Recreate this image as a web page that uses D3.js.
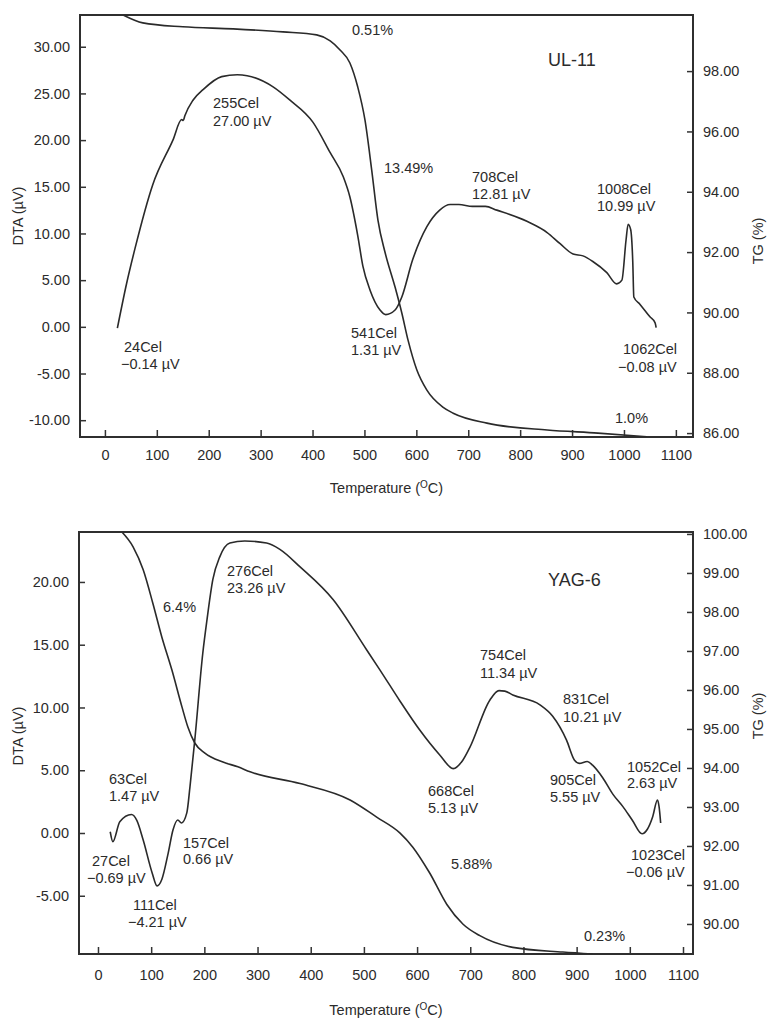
<!DOCTYPE html>
<html>
<head>
<meta charset="utf-8">
<script src="https://cdn.jsdelivr.net/npm/d3@7"></script>
<style>
  body { margin: 0; background: #fff; }
  svg text { font-family: "Liberation Sans", Arial, sans-serif; fill: #2b2b2b; }
</style>
</head>
<body>
<div id="chart"></div>
<script>
// ---------- data: UL-11 ----------
const ulDtaTemp = [24, 42, 58, 92, 131, 148, 151, 154, 170, 189, 225, 255, 274, 324, 356, 401, 434, 459, 472, 487, 497, 511, 530, 541, 559, 572, 593, 620, 645, 665, 682, 708, 733, 755, 813, 852, 877, 902, 921, 940, 967, 986, 996, 1004, 1008, 1013, 1017, 1019, 1031, 1050, 1060, 1062];
const ulDta = [-0.14, 4.7, 8.4, 15.2, 20.0, 22.2, 22.1, 22.6, 24.3, 25.4, 26.8, 27.0, 26.9, 25.7, 24.3, 21.9, 18.65, 16.1, 13.9, 9.8, 6.5, 3.9, 1.8, 1.31, 1.8, 3.2, 7.2, 10.7, 12.5, 13.1, 13.1, 12.9, 12.9, 12.5, 11.3, 10.1, 8.9, 7.8, 7.6, 7.0, 5.8, 4.6, 5.0, 9.3, 10.99, 10.4, 6.9, 3.2, 2.4, 1.07, 0.43, -0.08];
const ulTgTemp = [35, 73, 150, 247, 343, 408, 434, 453, 472, 487, 501, 514, 526, 540, 559, 572, 584, 601, 620, 651, 671, 736, 852, 950, 1044];
const ulTg = [99.86, 99.6, 99.47, 99.4, 99.3, 99.2, 99.0, 98.7, 98.27, 97.48, 96.38, 94.72, 93.06, 91.97, 90.84, 89.98, 89.08, 88.09, 87.43, 86.86, 86.66, 86.33, 86.1, 86.0, 85.88];
const ulDtaTicks = [-10, -5, 0, 5, 10, 15, 20, 25, 30];
const ulTgTicks = [86, 88, 90, 92, 94, 96, 98];
const ulNotes = [
  ["0.51%"], ["255Cel", "27.00 µV"], ["13.49%"], ["708Cel", "12.81 µV"],
  ["1008Cel", "10.99 µV"], ["24Cel", "\u22120.14 µV"], ["541Cel", "1.31 µV"],
  ["1062Cel", "\u22120.08 µV"], ["1.0%"]
];

// ---------- data: YAG-6 ----------
const yagDtaTemp = [23, 28, 41, 63, 73, 85, 102, 111, 120, 132, 141, 150, 157, 167, 173, 182, 197, 205, 216, 229, 248, 276, 317, 342, 380, 442, 505, 530, 568, 605, 643, 668, 686, 699, 737, 754, 765, 780, 831, 855, 881, 896, 905, 920, 930, 949, 968, 987, 1005, 1023, 1033, 1043, 1052, 1055, 1058];
const yagDta = [0.1, -0.69, 0.9, 1.47, 1.0, -0.56, -3.2, -4.21, -3.7, -1.6, 0.24, 1.04, 0.8, 1.6, 3.7, 7.4, 14.3, 17.0, 20.2, 22.0, 23.1, 23.26, 23.1, 22.6, 21.2, 18.6, 14.6, 13.0, 10.5, 8.2, 6.2, 5.13, 5.8, 6.8, 10.6, 11.34, 11.3, 11.0, 10.21, 9.3, 7.4, 5.8, 5.55, 5.7, 5.4, 4.4, 3.1, 2.1, 1.0, -0.06, 0.3, 1.3, 2.63, 2.1, 0.8];
const yagTgTemp = [45, 66, 85, 103, 120, 139, 158, 169, 182, 201, 235, 263, 286, 380, 474, 524, 568, 592, 624, 656, 686, 718, 780, 874, 930];
const yagTg = [100.05, 99.67, 99.08, 98.23, 97.36, 96.51, 95.56, 95.05, 94.64, 94.38, 94.15, 94.03, 93.9, 93.6, 93.18, 92.74, 92.33, 91.97, 91.3, 90.5, 90.0, 89.7, 89.4, 89.28, 89.23];
const yagDtaTicks = [-5, 0, 5, 10, 15, 20];
const yagTgTicks = [90, 91, 92, 93, 94, 95, 96, 97, 98, 99, 100];
const yagNotes = [
  ["276Cel", "23.26 µV"], ["6.4%"], ["754Cel", "11.34 µV"], ["831Cel", "10.21 µV"],
  ["63Cel", "1.47 µV"], ["157Cel", "0.66 µV"], ["27Cel", "\u22120.69 µV"],
  ["111Cel", "\u22124.21 µV"], ["668Cel", "5.13 µV"], ["905Cel", "5.55 µV"],
  ["1052Cel", "2.63 µV"], ["1023Cel", "\u22120.06 µV"], ["5.88%"], ["0.23%"]
];

const tempTicks = [0, 100, 200, 300, 400, 500, 600, 700, 800, 900, 1000, 1100];

// tick labels use a plain hyphen for negatives, like the original
const fmt2 = d3.formatLocale({decimal: ".", thousands: ",", grouping: [3], currency: ["", ""], minus: "-"}).format(".2f");

const svg = d3.select("#chart").append("svg")
  .attr("width", 770)
  .attr("height", 1020);

// draw one DTA/TG panel
function drawPanel(p) {
  const g = svg.append("g");

  let x = d3.scaleLinear().domain(p.tempDomain).range([p.left, p.right]);
  let yL = d3.scaleLinear().domain(p.dtaDomain).range([p.bottom, p.top]);
  let yR = d3.scaleLinear().domain(p.tgDomain).range([p.bottom, p.top]);

  // axes, ticks point inside the frame
  g.append("g")
    .attr("transform", "translate(0," + p.bottom + ")")
    .call(d3.axisBottom(x).tickValues(tempTicks).tickFormat(d3.format("d"))
      .tickSizeInner(-7).tickSizeOuter(0).tickPadding(p.xPad));
  g.append("g")
    .attr("transform", "translate(" + p.left + ",0)")
    .call(d3.axisLeft(yL).tickValues(p.dtaTicks).tickFormat(fmt2)
      .tickSizeInner(-6).tickSizeOuter(0).tickPadding(10));
  g.append("g")
    .attr("transform", "translate(" + p.right + ",0)")
    .call(d3.axisRight(yR).tickValues(p.tgTicks).tickFormat(fmt2)
      .tickSizeInner(-6).tickSizeOuter(0).tickPadding(10));

  g.selectAll(".domain").remove();
  g.selectAll(".tick line").attr("stroke", "#333").attr("stroke-width", 1.5);
  g.selectAll(".tick text").style("font-size", "14.5px")
    .style("font-family", "'Liberation Sans', Arial, sans-serif").attr("fill", "#2b2b2b");

  // frame
  g.append("rect")
    .attr("x", p.left).attr("y", p.top)
    .attr("width", p.right - p.left).attr("height", p.bottom - p.top)
    .attr("fill", "none").attr("stroke", "#2f2f2f").attr("stroke-width", 2);

  // curves
  const clipId = "clip" + p.top;
  g.append("clipPath").attr("id", clipId).append("rect")
    .attr("x", p.left).attr("y", p.top)
    .attr("width", p.right - p.left).attr("height", p.bottom - p.top);

  const dtaLine = d3.line().x(d => x(d[0])).y(d => yL(d[1])).curve(d3.curveMonotoneX);
  const tgLine = d3.line().x(d => x(d[0])).y(d => yR(d[1])).curve(d3.curveMonotoneX);

  g.append("path")
    .datum(d3.zip(p.dtaTemp, p.dta))
    .attr("clip-path", "url(#" + clipId + ")")
    .attr("d", dtaLine)
    .attr("fill", "none").attr("stroke", "#2a2a2a").attr("stroke-width", 1.6);
  g.append("path")
    .datum(d3.zip(p.tgTemp, p.tg))
    .attr("clip-path", "url(#" + clipId + ")")
    .attr("d", tgLine)
    .attr("fill", "none").attr("stroke", "#2a2a2a").attr("stroke-width", 1.6);

  // axis titles
  g.append("text")
    .attr("transform", "translate(23," + p.dtaTitleY + ") rotate(-90)")
    .attr("text-anchor", "middle").style("font-size", "14.5px")
    .text("DTA (µV)");
  g.append("text")
    .attr("transform", "translate(763," + p.tgTitleY + ") rotate(-90)")
    .attr("text-anchor", "middle").style("font-size", "14.5px")
    .text("TG (%)");

  const xt = g.append("text")
    .attr("x", (p.left + p.right) / 2).attr("y", p.xTitleY)
    .attr("text-anchor", "middle").style("font-size", "14.5px");
  xt.append("tspan").text("Temperature (");
  xt.append("tspan").attr("baseline-shift", "super").style("font-size", "10px").text("O");
  xt.append("tspan").text("C)");

  // sample name
  g.append("text")
    .attr("x", p.nameX).attr("y", p.nameY)
    .style("font-size", "18px").text(p.name);

  // peak / mass loss annotations
  p.notes.forEach((lines, i) => {
    const pos = p.notePos[i];
    lines.forEach((s, j) => {
      g.append("text")
        .attr("x", pos[j * 2]).attr("y", pos[j * 2 + 1])
        .style("font-size", "14.5px")
        .text(s);
    });
  });
}

drawPanel({
  left: 80, right: 693, top: 15, bottom: 437,
  tempDomain: [-48, 1133], dtaDomain: [-11.8, 33.4], tgDomain: [85.87, 99.86],
  dtaTicks: ulDtaTicks, tgTicks: ulTgTicks,
  dtaTemp: ulDtaTemp, dta: ulDta, tgTemp: ulTgTemp, tg: ulTg,
  xPad: 13, xTitleY: 493, dtaTitleY: 216, tgTitleY: 241,
  name: "UL-11", nameX: 548, nameY: 66,
  notes: ulNotes,
  notePos: [
    [352, 35], [213, 108, 213, 126], [384, 173], [472, 182, 472, 199],
    [597, 194, 597, 211], [124, 352, 121, 369], [351, 338, 351, 355],
    [623, 354, 618, 372], [615, 423]
  ]
});

drawPanel({
  left: 79, right: 693, top: 532, bottom: 954,
  tempDomain: [-35.7, 1118.8], dtaDomain: [-9.64, 23.98], tgDomain: [89.23, 100.05],
  dtaTicks: yagDtaTicks, tgTicks: yagTgTicks,
  dtaTemp: yagDtaTemp, dta: yagDta, tgTemp: yagTgTemp, tg: yagTg,
  xPad: 16, xTitleY: 1015, dtaTitleY: 736, tgTitleY: 716,
  name: "YAG-6", nameX: 548, nameY: 586,
  notes: yagNotes,
  notePos: [
    [227, 576, 227, 593], [163, 612], [480, 660, 480, 678], [563, 704, 563, 722],
    [109, 784, 109, 801], [183, 848, 183, 864], [92, 866, 87, 883],
    [133, 910, 128, 927], [428, 796, 428, 813], [550, 785, 550, 802],
    [627, 772, 627, 788], [631, 860, 626, 877], [451, 869], [584, 941]
  ]
});
</script>
</body>
</html>
